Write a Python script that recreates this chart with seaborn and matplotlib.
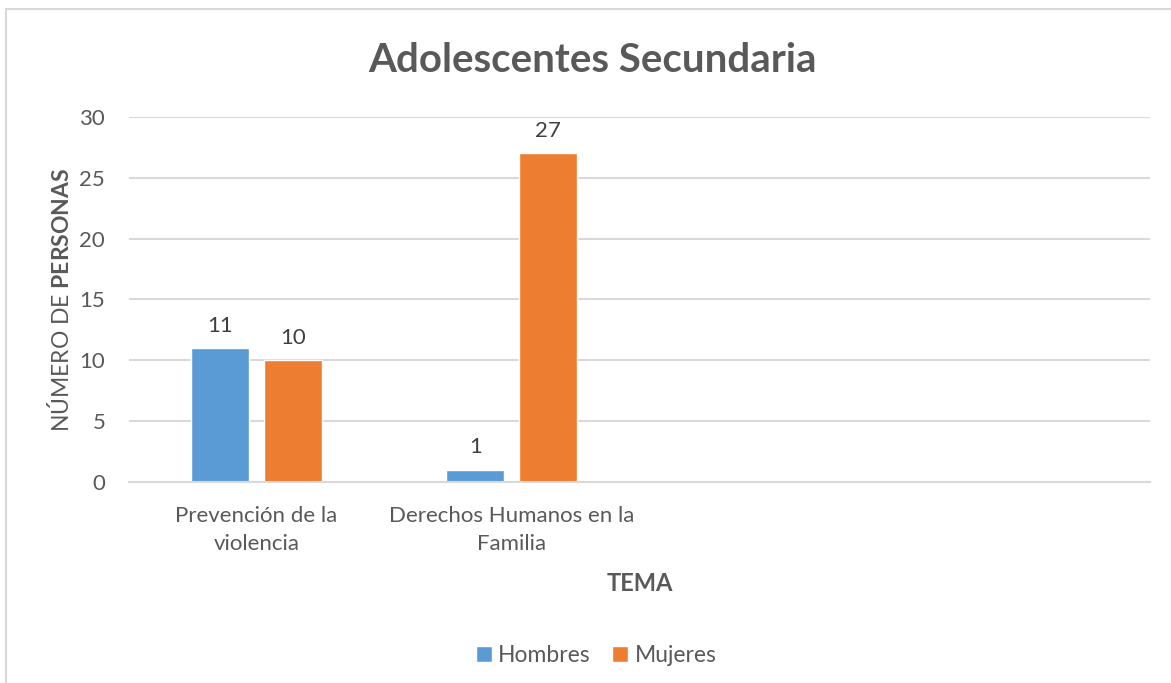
import matplotlib
matplotlib.use("Agg")
import matplotlib.pyplot as plt
import pandas as pd
import seaborn as sns
from matplotlib.patches import Rectangle

# Data
temas = ["Prevención de la\nviolencia", "Derechos Humanos en la\nFamilia", " ", "  "]
hombres = [11, 1]
mujeres = [10, 27]
series = ["Hombres", "Mujeres"]
colores = ["#5B9BD5", "#ED7D31"]
yticks = [0, 5, 10, 15, 20, 25, 30]

df = pd.DataFrame({
    "tema": temas[:2] * 2,
    "sexo": [series[0]] * 2 + [series[1]] * 2,
    "valor": hombres + mujeres,
})

sns.set_theme(style="white")
plt.rcParams["font.family"] = ["Lato", "DejaVu Sans"]
plt.rcParams["mathtext.fontset"] = "custom"
plt.rcParams["mathtext.rm"] = "Lato"
plt.rcParams["mathtext.bf"] = "Lato:bold"

gray = "#595959"
grid = "#D9D9D9"

fig = plt.figure(figsize=(11.71, 6.83), dpi=100)
ax = fig.add_axes([0.110, 0.2943, 0.872, 0.5344])

sns.barplot(data=df, x="tema", y="valor", hue="sexo", order=temas,
            hue_order=series, palette=colores, width=0.57, gap=0.2,
            saturation=1, ax=ax, legend=True)

ax.set_ylim(0, 30)
ax.set_yticks(yticks)
ax.set_xlim(-0.5, len(temas) - 0.5)
ax.yaxis.grid(True, color=grid, linewidth=1.5)
ax.set_axisbelow(True)
for side in ["top", "right", "left"]:
    ax.spines[side].set_visible(False)
ax.spines["bottom"].set_color(grid)
ax.spines["bottom"].set_linewidth(1.5)
ax.tick_params(axis="both", length=0, labelsize=16, labelcolor=gray)
ax.tick_params(axis="y", pad=17)
ax.tick_params(axis="x", pad=17)
for lbl in ax.get_xticklabels():
    lbl.set_linespacing(1.55)

for cont in ax.containers:
    ax.bar_label(cont, labels=[f"{v:.0f}" for v in cont.datavalues],
                 padding=9, fontsize=16, color="#404040")

ax.set_ylabel(r"NÚMERO DE $\bf{PERSONAS}$", fontsize=16.5, color=gray, labelpad=5)
ax.set_xlabel("TEMA", fontsize=17, color=gray, fontweight="bold", labelpad=13)

fig.text(0.506, 0.912, "Adolescentes Secundaria", ha="center", va="center",
         fontsize=29, fontweight="bold", color=gray)

handles, labels = ax.get_legend_handles_labels()
ax.legend_.remove()
fig.legend(handles, labels, loc="center", bbox_to_anchor=(0.509, 0.04), ncol=2,
           frameon=False, fontsize=16.5, handlelength=0.7, handleheight=0.7,
           handletextpad=0.27, columnspacing=0.95, labelcolor=gray)

fig.patches.append(Rectangle((0.005, -0.1), 1.2, 1.087, transform=fig.transFigure,
                             fill=False, edgecolor=grid, linewidth=1.5))

fig.savefig("out.png", dpi=100, facecolor="white")
